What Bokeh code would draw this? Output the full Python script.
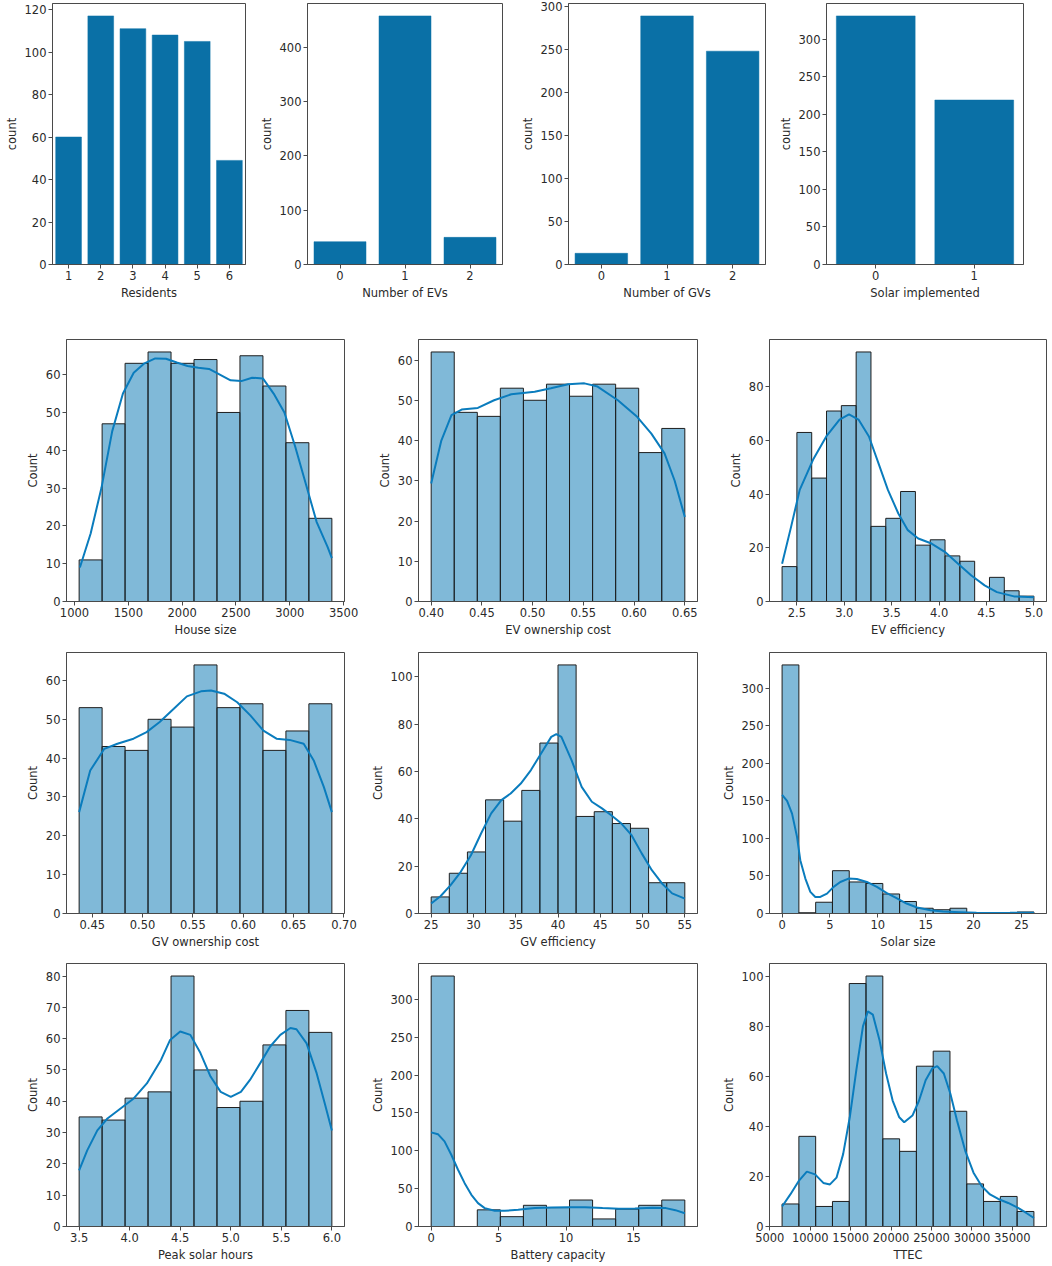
import numpy as np
from bokeh.plotting import figure
from bokeh.layouts import column, row
from bokeh.models import Range1d, FactorRange, FixedTicker, PrintfTickFormatter
from bokeh.embed import file_html
from bokeh.resources import INLINE

# ---------------- data: count plots (top row) ----------------
residents_cats = ["1", "2", "3", "4", "5", "6"]
residents_counts = [60, 117, 111, 108, 105, 49]
evs_cats = ["0", "1", "2"]
evs_counts = [42, 458, 50]
gvs_cats = ["0", "1", "2"]
gvs_counts = [13, 289, 248]
solar_impl_cats = ["0", "1"]
solar_impl_counts = [331, 219]

residents_yticks = [0, 20, 40, 60, 80, 100, 120]
evs_yticks = [0, 100, 200, 300, 400]
gvs_yticks = [0, 50, 100, 150, 200, 250, 300]
solar_impl_yticks = [0, 50, 100, 150, 200, 250, 300]

# ---------------- data: histograms ----------------
house_range = [1043, 3391]
house_counts = [11, 47, 63, 66, 63, 64, 50, 65, 57, 42, 22]
house_kde_x = [1050, 1150, 1250, 1350, 1450, 1550, 1650, 1750, 1850, 1950, 2050, 2150, 2250,
               2350, 2450, 2550, 2650, 2750, 2850, 2950, 3050, 3150, 3250, 3350, 3391]
house_kde_y = [9, 18, 30, 45, 55, 60.5, 63, 64.3, 64.2, 63.2, 62.3, 61.8, 61.5,
               60, 58.5, 58.3, 59.2, 59, 55, 50, 41, 31, 21, 14.5, 11.5]
house_xticks = [1000, 1500, 2000, 2500, 3000, 3500]
house_yticks = [0, 10, 20, 30, 40, 50, 60]

evcost_range = [0.40, 0.65]
evcost_counts = [62, 47, 46, 53, 50, 54, 51, 54, 53, 37, 43]
evcost_kde_x = [0.400, 0.410, 0.420, 0.430, 0.446, 0.462, 0.479, 0.502, 0.518, 0.535, 0.551,
                0.564, 0.584, 0.603, 0.617, 0.630, 0.640, 0.650]
evcost_kde_y = [29.3, 40, 46.3, 47.7, 48.1, 50, 51.5, 52.1, 53, 54, 54.2,
                53.4, 50, 45.9, 41.7, 36.8, 30, 21]
evcost_xticks = [0.40, 0.45, 0.50, 0.55, 0.60, 0.65]
evcost_yticks = [0, 10, 20, 30, 40, 50, 60]

eveff_range = [2.344, 5.0]
eveff_counts = [13, 63, 46, 71, 73, 93, 28, 31, 41, 21, 23, 17, 15, 0, 9, 4, 2]
eveff_kde_x = [2.344, 2.44, 2.53, 2.67, 2.81, 2.95, 3.05, 3.15, 3.26, 3.36, 3.46, 3.57, 3.67,
               3.78, 3.92, 4.06, 4.20, 4.34, 4.48, 4.61, 4.79, 5.0]
eveff_kde_y = [14.1, 28, 41.6, 52.8, 61.5, 67.8, 69.7, 67.8, 61.5, 51.6, 41.6, 32.8, 26.6,
               23.5, 21.6, 18.5, 14.1, 9.7, 6, 3.5, 1.9, 1.6]
eveff_xticks = [2.5, 3.0, 3.5, 4.0, 4.5, 5.0]
eveff_yticks = [0, 20, 40, 60, 80]

gvcost_range = [0.437, 0.688]
gvcost_counts = [53, 43, 42, 50, 48, 64, 53, 54, 42, 47, 54]
gvcost_kde_x = [0.437, 0.448, 0.462, 0.475, 0.491, 0.504, 0.517, 0.531, 0.544, 0.558, 0.568,
                0.581, 0.594, 0.607, 0.620, 0.633, 0.646, 0.660, 0.670, 0.680, 0.688]
gvcost_kde_y = [26.1, 36.8, 42.4, 43.7, 45, 46.7, 49.3, 52.7, 55.9, 57.2, 57.4,
                56.6, 54.4, 51, 47.1, 45, 44.7, 43.7, 39.4, 32.6, 26.1]
gvcost_xticks = [0.45, 0.50, 0.55, 0.60, 0.65, 0.70]
gvcost_yticks = [0, 10, 20, 30, 40, 50, 60]

gveff_range = [25, 55]
gveff_counts = [7, 17, 26, 48, 39, 52, 72, 105, 41, 43, 38, 36, 13, 13]
gveff_kde_x = [25, 26.1, 27.3, 28.5, 29.7, 30.9, 32.1, 33.3, 34.4, 35.6, 36.8, 38, 39.2, 39.8,
               40.4, 41.6, 42.8, 44, 45.2, 46.3, 47.5, 48.7, 49.9, 51.1, 52.3, 53.5, 55]
gveff_kde_y = [4.2, 7.3, 12, 17.6, 24.6, 33.8, 42.3, 47.9, 50.7, 54.9, 60.6, 67.6, 74.6, 75.8,
               74.6, 64.8, 53.5, 47.2, 44.4, 41.5, 38, 33.1, 25.4, 18.3, 12.7, 8.5, 6.3]
gveff_xticks = [25, 30, 35, 40, 45, 50, 55]
gveff_yticks = [0, 20, 40, 60, 80, 100]

solar_range = [0, 26.3]
solar_counts = [331, 1, 15, 57, 42, 40, 26, 16, 7, 5, 7, 1, 0, 0, 2]
solar_kde_x = [0, 0.52, 1.04, 1.56, 1.9, 2.43, 2.95, 3.47, 3.99, 4.69, 5.38, 6.08, 6.94, 7.81,
               8.85, 9.9, 10.9, 12, 13, 14.1, 15.5, 16.8, 18.6, 20.3, 22, 23.8, 25.2, 26.3]
solar_kde_y = [158, 150, 133, 102, 71, 46.5, 28.8, 22, 22, 26.5, 35.4, 42, 46.5, 46,
               42, 35.4, 27.4, 20, 13.3, 8, 4.4, 2.7, 1.8, 0.9, 0.7, 0.9, 1.1, 0.9]
solar_xticks = [0, 5, 10, 15, 20, 25]
solar_yticks = [0, 50, 100, 150, 200, 250, 300]

peak_range = [3.5, 6.0]
peak_counts = [35, 34, 41, 43, 80, 50, 38, 40, 58, 69, 62]
peak_kde_x = [3.5, 3.58, 3.68, 3.78, 3.91, 4.04, 4.17, 4.31, 4.40, 4.50, 4.60, 4.70, 4.80,
              4.90, 5.00, 5.10, 5.19, 5.29, 5.39, 5.49, 5.59, 5.65, 5.75, 5.85, 5.93, 6.0]
peak_kde_y = [17.9, 24.3, 30.7, 34.5, 37.7, 40.9, 45.7, 53.2, 59.6, 62.3, 61.2, 55.4, 47.9,
              43, 41.4, 43, 46.8, 52.1, 57.5, 61.2, 63.4, 63, 58.5, 48.9, 39.3, 30.7]
peak_xticks = [3.5, 4.0, 4.5, 5.0, 5.5, 6.0]
peak_yticks = [0, 10, 20, 30, 40, 50, 60, 70, 80]

battery_range = [0, 18.8]
battery_counts = [331, 0, 22, 13, 28, 25, 35, 10, 23, 28, 35]
battery_kde_x = [0, 0.5, 0.99, 1.49, 1.99, 2.48, 2.98, 3.47, 3.97, 4.71, 5.46, 6.45, 7.69,
                 8.93, 10.2, 11.4, 12.7, 13.9, 15.1, 16.4, 17.4, 18.1, 18.8]
battery_kde_y = [124.4, 122, 112.5, 94.8, 75, 57.3, 41.9, 30.9, 24.3, 20.7, 20.7, 22, 24.3,
                 25.1, 25.6, 25.6, 24.3, 23.4, 23.8, 24.7, 24.3, 21.6, 17.6]
battery_xticks = [0, 5, 10, 15]
battery_yticks = [0, 50, 100, 150, 200, 250, 300]

ttec_range = [6520, 37660]
ttec_counts = [9, 36, 8, 10, 97, 100, 35, 30, 64, 70, 46, 17, 10, 12, 6]
ttec_kde_x = [6520, 7540, 8560, 9580, 10600, 11620, 12440, 13250, 14070, 14890, 15700, 16520,
              17130, 17740, 18560, 19380, 20190, 21010, 21620, 22640, 23460, 24270, 25090,
              25700, 26520, 27330, 28150, 29170, 30190, 31210, 32230, 33250, 34480, 35700,
              36720, 37660]
ttec_kde_y = [8, 12.8, 18.1, 21.9, 20.8, 17.4, 16.8, 19.5, 28.9, 43.6, 62.4, 79.9,
              85.9, 84.6, 74.5, 61.1, 50.3, 43.6, 41.6, 44.3, 50.3, 58.4, 63.1,
              64, 61.1, 53, 42.3, 30.2, 21.5, 16.1, 12.8, 11, 9.4, 7.4, 5.4, 3.4]
ttec_xticks = [5000, 10000, 15000, 20000, 25000, 30000, 35000]
ttec_yticks = [0, 20, 40, 60, 80, 100]

# ---------------- styling ----------------
FONT = "DejaVu Sans"
TXT = "#2a2a2a"
SPINE = "#4a4a4a"
BAR = "#0a70a6"
HIST = "#0173b2"
KDE = "#0a7cbd"


def make_fig(dims, x_range, y_range):
    W, H, L, R, T, B = dims
    p = figure(width=W, height=H, min_border_left=L, min_border_right=R,
               min_border_top=T, min_border_bottom=B, x_range=x_range, y_range=y_range,
               output_backend="svg", toolbar_location=None)
    p.xgrid.visible = False
    p.ygrid.visible = False
    p.outline_line_color = SPINE
    p.outline_line_width = 1
    p.background_fill_color = "white"
    p.border_fill_color = "white"
    return p


def style_axes(p, xlabel, ylabel):
    for ax in (p.xaxis[0], p.yaxis[0]):
        ax.axis_line_color = SPINE
        ax.axis_line_width = 1
        ax.major_tick_line_color = SPINE
        ax.major_tick_out = 4
        ax.major_tick_in = 0
        ax.minor_tick_line_color = None
        ax.major_label_text_font = FONT
        ax.major_label_text_font_size = "11.5px"
        ax.major_label_text_color = TXT
        ax.axis_label_text_font = FONT
        ax.axis_label_text_font_size = "11.5px"
        ax.axis_label_text_font_style = "normal"
        ax.axis_label_text_color = TXT
        ax.major_label_standoff = 2
        ax.axis_label_standoff = 3
    p.xaxis[0].axis_label = xlabel
    p.yaxis[0].axis_label = ylabel


def count_fig(cats, counts, yticks, xlabel, dims):
    p = make_fig(dims, FactorRange(factors=cats), Range1d(0, max(counts) * 1.05))
    p.vbar(x=cats, top=counts, width=0.8, fill_color=BAR, line_color=BAR, line_width=0.5)
    p.yaxis[0].ticker = FixedTicker(ticks=yticks)
    style_axes(p, xlabel, "count")
    return p


def hist_fig(rng, counts, kx, ky, xticks, yticks, xfmt, xlabel, dims):
    lo, hi = rng
    n = len(counts)
    edges = np.linspace(lo, hi, n + 1)
    span = hi - lo
    ytop = max(max(counts), max(ky)) * 1.05
    p = make_fig(dims, Range1d(lo - 0.05 * span, hi + 0.05 * span), Range1d(0, ytop))
    p.quad(left=edges[:-1], right=edges[1:], bottom=0, top=counts,
           fill_color=HIST, fill_alpha=0.5, line_color="#1e1e1e", line_width=1)
    p.line(kx, ky, line_color=KDE, line_width=2)
    p.xaxis[0].ticker = FixedTicker(ticks=xticks)
    p.yaxis[0].ticker = FixedTicker(ticks=yticks)
    if xfmt:
        p.xaxis[0].formatter = PrintfTickFormatter(format=xfmt)
    style_axes(p, xlabel, "Count")
    return p


# layout dims: (width, height, left, right, top, bottom)
r1 = [(253, 329, 52, 8, 3, 65), (261, 329, 54, 12, 3, 65),
      (258, 329, 54, 7, 3, 65), (276, 329, 54, 25, 3, 65)]
cols = [(364, 66, 20), (351, 54, 18), (333, 54, 2)]
rows_v = [(313, 10, 41), (311, 10, 40), (311, 10, 38)]


def d(ci, ri):
    W, L, R = cols[ci]
    H, T, B = rows_v[ri]
    return (W, H, L, R, T, B)


top = row(
    count_fig(residents_cats, residents_counts, residents_yticks, "Residents", r1[0]),
    count_fig(evs_cats, evs_counts, evs_yticks, "Number of EVs", r1[1]),
    count_fig(gvs_cats, gvs_counts, gvs_yticks, "Number of GVs", r1[2]),
    count_fig(solar_impl_cats, solar_impl_counts, solar_impl_yticks, "Solar implemented", r1[3]),
)

row2 = row(
    hist_fig(house_range, house_counts, house_kde_x, house_kde_y, house_xticks, house_yticks,
             None, "House size", d(0, 0)),
    hist_fig(evcost_range, evcost_counts, evcost_kde_x, evcost_kde_y, evcost_xticks, evcost_yticks,
             "%.2f", "EV ownership cost", d(1, 0)),
    hist_fig(eveff_range, eveff_counts, eveff_kde_x, eveff_kde_y, eveff_xticks, eveff_yticks,
             "%.1f", "EV efficiency", d(2, 0)),
)

row3 = row(
    hist_fig(gvcost_range, gvcost_counts, gvcost_kde_x, gvcost_kde_y, gvcost_xticks, gvcost_yticks,
             "%.2f", "GV ownership cost", d(0, 1)),
    hist_fig(gveff_range, gveff_counts, gveff_kde_x, gveff_kde_y, gveff_xticks, gveff_yticks,
             None, "GV efficiency", d(1, 1)),
    hist_fig(solar_range, solar_counts, solar_kde_x, solar_kde_y, solar_xticks, solar_yticks,
             None, "Solar size", d(2, 1)),
)

row4 = row(
    hist_fig(peak_range, peak_counts, peak_kde_x, peak_kde_y, peak_xticks, peak_yticks,
             "%.1f", "Peak solar hours", d(0, 2)),
    hist_fig(battery_range, battery_counts, battery_kde_x, battery_kde_y, battery_xticks,
             battery_yticks, None, "Battery capacity", d(1, 2)),
    hist_fig(ttec_range, ttec_counts, ttec_kde_x, ttec_kde_y, ttec_xticks, ttec_yticks,
             None, "TTEC", d(2, 2)),
)

layout = column(top, row2, row3, row4)

open("out.html", "w").write(file_html(layout, INLINE))
